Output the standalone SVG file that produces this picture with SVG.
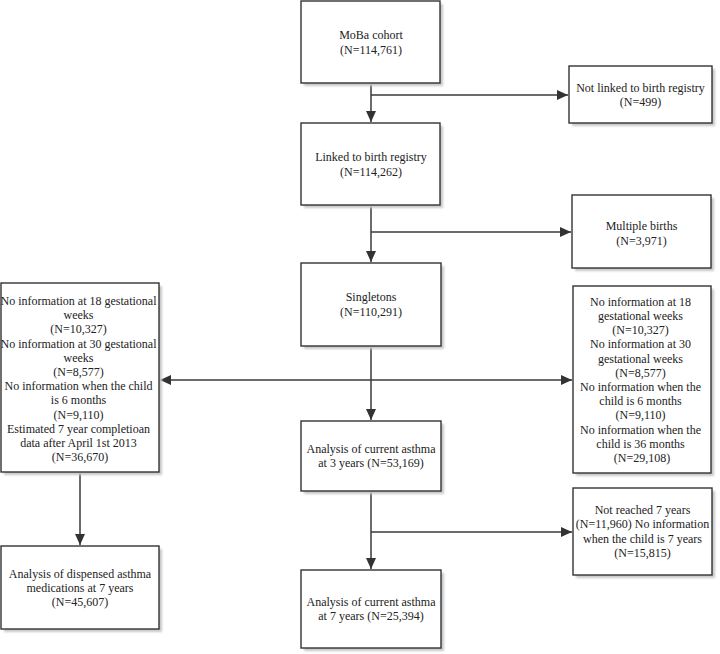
<svg xmlns="http://www.w3.org/2000/svg" width="720" height="654" viewBox="0 0 720 654">
<style>
.box{fill:#fff;stroke:#333;stroke-width:1.4}
.sh{fill:#c8c8c8;filter:url(#blur)}
.t{font-family:"Liberation Serif","Times New Roman",serif;font-size:12px;fill:#222;text-anchor:middle}
.ln{stroke:#3a3a3a;stroke-width:1.5;fill:none}
.arr{marker-end:url(#ah)}
</style>
<defs>
<filter id="blur" x="-10%" y="-10%" width="130%" height="130%"><feGaussianBlur stdDeviation="1.2"/></filter>
<marker id="ah" markerUnits="userSpaceOnUse" markerWidth="12" markerHeight="10" refX="11" refY="5" orient="auto"><path d="M0,0 L11,5 L0,10 Z" fill="#333"/></marker>
</defs>
<rect width="720" height="654" fill="#fff"/>
<g id="connectors">
<path class="ln arr" d="M371,83 V122"/>
<path class="ln arr" d="M371,95 H568"/>
<path class="ln arr" d="M371,205 V262"/>
<path class="ln arr" d="M371,232 H571"/>
<path class="ln arr" d="M371,346 V420"/>
<path class="ln arr" d="M371,380 H160"/>
<path class="ln arr" d="M371,380 H572"/>
<path class="ln arr" d="M371,491 V569"/>
<path class="ln arr" d="M371,532 H572"/>
<path class="ln arr" d="M80,472 V545"/>
</g>
<g id="moba">
<rect class="sh" x="304" y="4" width="139" height="82"/>
<rect class="box" x="301" y="1" width="139" height="82"/>
<text class="t"><tspan x="371" y="39">MoBa cohort</tspan><tspan x="371" y="54">(N=114,761)</tspan></text>
</g>
<g id="notlinked">
<rect class="sh" x="572" y="69" width="143" height="57"/>
<rect class="box" x="569" y="66" width="143" height="57"/>
<text class="t"><tspan x="640.5" y="92">Not linked to birth registry</tspan><tspan x="640.5" y="106">(N=499)</tspan></text>
</g>
<g id="linked">
<rect class="sh" x="304" y="126" width="139" height="82"/>
<rect class="box" x="301" y="123" width="139" height="82"/>
<text class="t"><tspan x="371" y="161">Linked to birth registry</tspan><tspan x="371" y="176">(N=114,262)</tspan></text>
</g>
<g id="multiple">
<rect class="sh" x="575" y="198" width="139" height="73"/>
<rect class="box" x="572" y="195" width="139" height="73"/>
<text class="t"><tspan x="641.5" y="230">Multiple births</tspan><tspan x="641.5" y="245">(N=3,971)</tspan></text>
</g>
<g id="singletons">
<rect class="sh" x="304" y="266" width="140" height="83"/>
<rect class="box" x="301" y="263" width="140" height="83"/>
<text class="t"><tspan x="371" y="301">Singletons</tspan><tspan x="371" y="316">(N=110,291)</tspan></text>
</g>
<g id="leftexcl">
<rect class="sh" x="4" y="286" width="158" height="189"/>
<rect class="box" x="1" y="283" width="158" height="189"/>
<text class="t">
<tspan x="80" y="305">No information at 18 gestational</tspan>
<tspan x="80" y="319.2">weeks</tspan>
<tspan x="80" y="333.4">(N=10,327)</tspan>
<tspan x="80" y="347.6">No information at 30 gestational</tspan>
<tspan x="80" y="361.8">weeks</tspan>
<tspan x="80" y="376">(N=8,577)</tspan>
<tspan x="80" y="390.2">No information when the child</tspan>
<tspan x="80" y="404.4">is 6 months</tspan>
<tspan x="80" y="418.6">(N=9,110)</tspan>
<tspan x="80" y="432.8">Estimated 7 year completioan</tspan>
<tspan x="80" y="447">data after April 1st 2013</tspan>
<tspan x="80" y="461.2">(N=36,670)</tspan>
</text>
</g>
<g id="rightexcl">
<rect class="sh" x="576" y="289" width="138" height="187"/>
<rect class="box" x="573" y="286" width="138" height="187"/>
<text class="t">
<tspan x="642" y="305.7">No information at 18</tspan>
<tspan x="642" y="319.9">gestational weeks</tspan>
<tspan x="642" y="334.1">(N=10,327)</tspan>
<tspan x="642" y="348.3">No information at 30</tspan>
<tspan x="642" y="362.5">gestational weeks</tspan>
<tspan x="642" y="376.7">(N=8,577)</tspan>
<tspan x="642" y="390.9">No information when the</tspan>
<tspan x="642" y="405.1">child is 6 months</tspan>
<tspan x="642" y="419.3">(N=9,110)</tspan>
<tspan x="642" y="433.5">No information when the</tspan>
<tspan x="642" y="447.7">child is 36 months</tspan>
<tspan x="642" y="461.9">(N=29,108)</tspan>
</text>
</g>
<g id="asthma3">
<rect class="sh" x="304" y="424" width="140" height="70"/>
<rect class="box" x="301" y="421" width="140" height="70"/>
<text class="t"><tspan x="371" y="453">Analysis of current asthma</tspan><tspan x="371" y="467">at 3 years (N=53,169)</tspan></text>
</g>
<g id="notreached">
<rect class="sh" x="576" y="491" width="139" height="87"/>
<rect class="box" x="573" y="488" width="139" height="87"/>
<text class="t"><tspan x="642.5" y="514">Not reached 7 years</tspan><tspan x="642.5" y="528">(N=11,960) No information</tspan><tspan x="642.5" y="542.5">when the child is 7 years</tspan><tspan x="642.5" y="557">(N=15,815)</tspan></text>
</g>
<g id="dispensed">
<rect class="sh" x="4" y="549" width="158" height="83"/>
<rect class="box" x="1" y="546" width="158" height="83"/>
<text class="t"><tspan x="80" y="577.5">Analysis of dispensed asthma</tspan><tspan x="80" y="591.5">medications at 7 years</tspan><tspan x="80" y="606">(N=45,607)</tspan></text>
</g>
<g id="asthma7">
<rect class="sh" x="304" y="573" width="140" height="78"/>
<rect class="box" x="301" y="570" width="140" height="78"/>
<text class="t"><tspan x="371" y="606">Analysis of current asthma</tspan><tspan x="371" y="620">at 7 years (N=25,394)</tspan></text>
</g>
</svg>
